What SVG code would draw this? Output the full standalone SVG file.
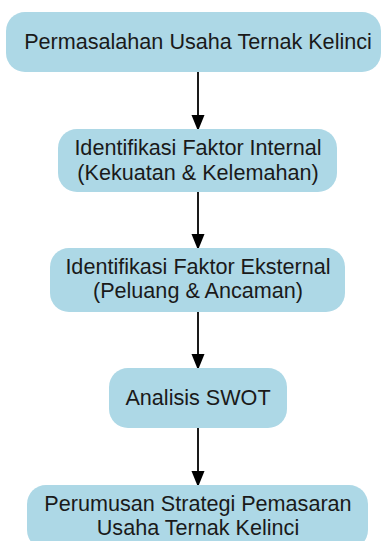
<svg xmlns="http://www.w3.org/2000/svg" width="382" height="541" viewBox="0 0 382 541">
<style>
.box{fill:#ADD8E6;stroke:none}
.t{font-family:"Liberation Sans",Arial,sans-serif;font-size:21.6px;fill:#1a1a1a;text-anchor:middle}
.e{stroke:#1a1a1a;stroke-width:2;fill:none}
</style>
<defs>
<marker id="ah" markerUnits="userSpaceOnUse" markerWidth="14" markerHeight="18" refX="14" refY="6.5" orient="auto">
<path d="M0,0 L16,6.5 L0,13 Z" fill="#000"/>
</marker>
</defs>
<rect width="382" height="541" fill="#fff"/>
<g id="connectors">
<line class="e" x1="198" y1="72" x2="198" y2="129" marker-end="url(#ah)"/>
<line class="e" x1="198" y1="192" x2="198" y2="248" marker-end="url(#ah)"/>
<line class="e" x1="198" y1="312" x2="198" y2="368" marker-end="url(#ah)"/>
<line class="e" x1="198" y1="428" x2="198" y2="485" marker-end="url(#ah)"/>
</g>
<g id="n1">
<rect class="box" x="6" y="12" width="375" height="60" rx="19"/>
<text class="t" x="198" y="48.5">Permasalahan Usaha Ternak Kelinci</text>
</g>
<g id="n2">
<rect class="box" x="58" y="129" width="279" height="63" rx="19"/>
<text class="t" x="198" y="155">Identifikasi Faktor Internal</text>
<text class="t" x="198" y="180">(Kekuatan &amp; Kelemahan)</text>
</g>
<g id="n3">
<rect class="box" x="50" y="248" width="295" height="64" rx="19"/>
<text class="t" x="198" y="274">Identifikasi Faktor Eksternal</text>
<text class="t" x="198" y="298">(Peluang &amp; Ancaman)</text>
</g>
<g id="n4">
<rect class="box" x="109" y="368" width="178" height="60" rx="19"/>
<text class="t" x="198" y="405">Analisis SWOT</text>
</g>
<g id="n5">
<rect class="box" x="27" y="485" width="341" height="64" rx="19"/>
<text class="t" x="198" y="511">Perumusan Strategi Pemasaran</text>
<text class="t" x="198" y="535">Usaha Ternak Kelinci</text>
</g>
</svg>
